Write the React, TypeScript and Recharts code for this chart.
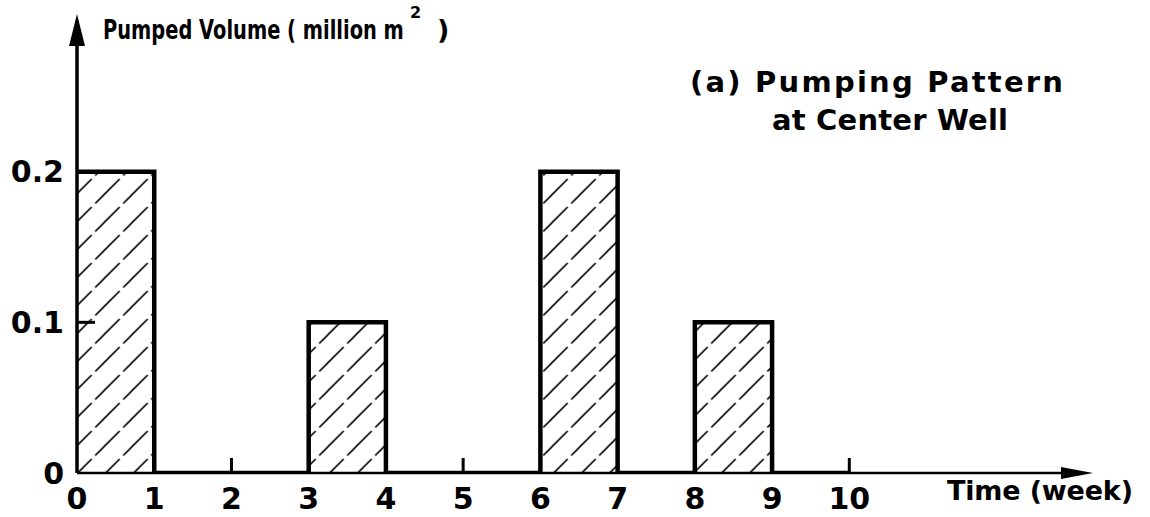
import React from "react";
import { ComposedChart, Area, XAxis, YAxis } from "recharts";

const weeks = [0, 1, 2, 3, 4, 5, 6, 7, 8, 9, 10];
const volumes = [0.2, 0, 0, 0.1, 0, 0, 0.2, 0, 0.1, 0, 0];
const xTicks = [0, 1, 2, 3, 4, 5, 6, 7, 8, 9, 10];
const yTicks = [0, 0.1, 0.2];
const yTickLabels = ["0", "0.1", "0.2"];

const data = weeks.map((w, i) => ({ week: w, volume: volumes[i] }));

const FONT = "'DejaVu Sans', sans-serif";

const YTick = (props: any) => {
  const { x, y, payload } = props;
  const idx = yTicks.indexOf(payload.value);
  const label = idx >= 0 ? yTickLabels[idx] : String(payload.value);
  return (
    <g>
      <text
        x={x - 13}
        y={y}
        textAnchor="end"
        dominantBaseline="central"
        fontFamily={FONT}
        fontWeight="bold"
        fontSize={30}
        fill="#000"
      >
        {label}
      </text>
      {payload.value !== 0 && (
        <line x1={x} x2={x + 18} y1={y} y2={y} stroke="#000" strokeWidth={3} />
      )}
    </g>
  );
};

const XTick = (props: any) => {
  const { x, y, payload } = props;
  return (
    <g>
      <text
        x={x}
        y={y + 36}
        textAnchor="middle"
        fontFamily={FONT}
        fontWeight="bold"
        fontSize={30}
        fill="#000"
      >
        {String(payload.value)}
      </text>
      {payload.value !== 0 && (
        <line x1={x} x2={x} y1={y} y2={y - 15} stroke="#000" strokeWidth={3} />
      )}
    </g>
  );
};

export default function App() {
  return (
    <div style={{ position: "absolute", left: 0, top: 0, background: "#fff" }}>
      <ComposedChart
        width={1150}
        height={517}
        data={data}
        margin={{ top: 21, right: 69, bottom: 14, left: 0 }}
      >
        <defs>
          <pattern
            id="hatch"
            patternUnits="userSpaceOnUse"
            x={18.7}
            y={0}
            width={28}
            height={28}
          >
            <path
              d="M0,28 L28,0 M-7,7 L7,-7 M21,35 L35,21"
              stroke="#000"
              strokeWidth={1.6}
              strokeDasharray="24 5"
            />
          </pattern>
          <marker
            id="arrowX"
            viewBox="0 0 32 12"
            refX={20}
            refY={6}
            markerWidth={32}
            markerHeight={12}
            markerUnits="userSpaceOnUse"
            orient="auto"
          >
            <path d="M0,0 L32,6 L0,12 Z" fill="#000" />
          </marker>
          <marker
            id="arrowY"
            viewBox="0 0 32 16"
            refX={25}
            refY={8}
            markerWidth={32}
            markerHeight={16}
            markerUnits="userSpaceOnUse"
            orient="auto-start-reverse"
          >
            <path d="M0,0 L32,8 L0,16 Z" fill="#000" />
          </marker>
        </defs>
        <XAxis
          dataKey="week"
          type="number"
          domain={[0, 13]}
          ticks={xTicks}
          interval={0}
          height={30}
          allowDataOverflow
          tickLine={false}
          tickSize={0}
          tickMargin={0}
          axisLine={{ stroke: "#000", strokeWidth: 2.5, markerEnd: "url(#arrowX)" }}
          tick={<XTick />}
        />
        <YAxis
          type="number"
          domain={[0, 0.3]}
          ticks={yTicks}
          interval={0}
          width={77}
          allowDataOverflow
          tickLine={false}
          tickSize={0}
          tickMargin={0}
          axisLine={{ stroke: "#000", strokeWidth: 3.5, markerStart: "url(#arrowY)" }}
          tick={<YTick />}
        />
        <Area
          type="stepAfter"
          dataKey="volume"
          stroke="#000"
          strokeWidth={4.5}
          fill="url(#hatch)"
          fillOpacity={1}
          dot={false}
          activeDot={false}
          isAnimationActive={false}
        />
      </ComposedChart>
      <svg
        width={1150}
        height={517}
        style={{ position: "absolute", left: 0, top: 0, pointerEvents: "none" }}
      >
        <g fontFamily={FONT} fontWeight="bold" fill="#000">
          <g transform="translate(103,39) scale(0.72,1)">
            <text x={0} y={0} fontSize={27}>
              Pumped Volume ( million m
            </text>
          </g>
          <text x={410} y={18} fontSize={16}>2</text>
          <text x={437} y={39} fontSize={27}>)</text>
          <text x={690} y={92} fontSize={29} textLength={373} lengthAdjust="spacing">
            (a) Pumping  Pattern
          </text>
          <text x={772} y={130} fontSize={29} textLength={236} lengthAdjust="spacing">
            at Center Well
          </text>
          <text x={947} y={500} fontSize={27} textLength={186} lengthAdjust="spacing">
            Time  (week)
          </text>
        </g>
      </svg>
    </div>
  );
}
